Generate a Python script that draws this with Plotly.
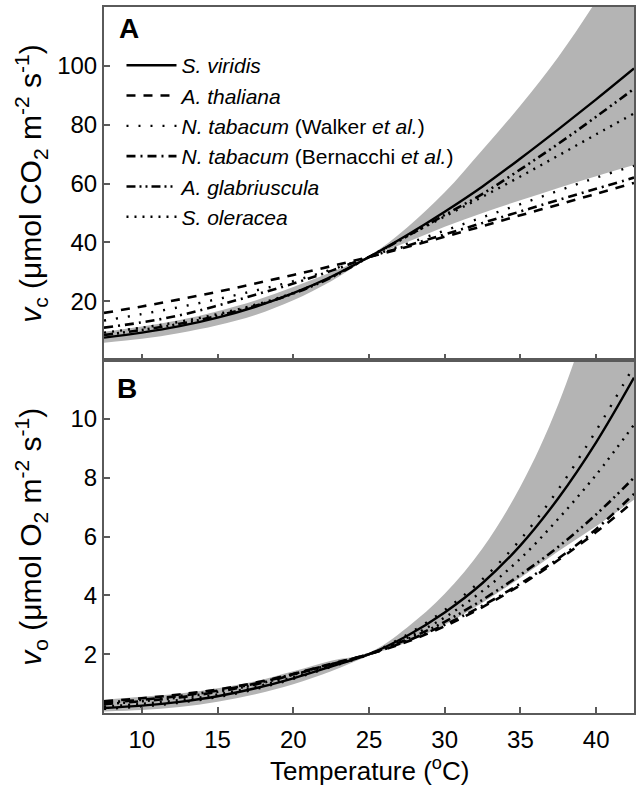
import plotly.graph_objects as go

# ---------------- data ----------------
temperature = [7.5, 10, 12.5, 15, 17.5, 20, 22.5, 25, 27.5, 30, 32.5, 35, 37.5, 40, 42.5]

species = [
    "<i>S. viridis</i>",
    "<i>A. thaliana</i>",
    "<i>N. tabacum</i> (Walker <i>et al.</i>)",
    "<i>N. tabacum</i> (Bernacchi <i>et al.</i>)",
    "<i>A. glabriuscula</i>",
    "<i>S. oleracea</i>",
]

# Panel A: v_c (umol CO2 m-2 s-1)
vc_viridis   = [7.6, 9.3, 11.5, 14.4, 18.1, 22.7, 28.3, 35.0, 42.4, 50.4, 59.0, 68.5, 78.4, 88.6, 99.1]
vc_thaliana  = [16.0, 18.2, 20.6, 23.2, 26.0, 28.9, 31.9, 35.0, 38.4, 41.9, 45.5, 49.2, 52.8, 56.5, 60.2]
vc_walker    = [13.4, 15.6, 18.0, 20.7, 23.6, 26.8, 30.7, 35.0, 39.5, 44.0, 48.5, 53.0, 57.5, 62.0, 66.0]
vc_bernacchi = [11.0, 12.8, 15.2, 18.5, 22.2, 26.0, 30.3, 35.0, 38.8, 42.7, 46.6, 50.5, 54.4, 58.2, 62.0]
vc_glab      = [8.5, 10.2, 12.3, 15.0, 18.4, 22.6, 28.0, 35.0, 42.0, 49.3, 56.5, 64.8, 73.5, 82.7, 92.2]
vc_oleracea  = [9.3, 11.0, 13.0, 15.6, 18.8, 22.8, 28.2, 35.0, 42.0, 48.8, 55.5, 62.4, 69.5, 76.7, 83.8]
vc_band_low  = [5.9, 7.2, 9.2, 11.8, 15.3, 20.3, 26.8, 34.6, 40.0, 45.3, 50.0, 54.3, 58.5, 62.5, 66.3]
vc_band_high = [9.6, 11.4, 13.6, 16.6, 20.2, 24.8, 29.8, 35.4, 45.0, 57.0, 71.5, 86.5, 103.0, 122.0, 142.0]

# Panel B: v_o (umol O2 m-2 s-1)
vo_viridis   = [0.17, 0.25, 0.38, 0.57, 0.84, 1.18, 1.58, 2.0, 2.62, 3.42, 4.42, 5.70, 7.30, 9.20, 11.4]
vo_thaliana  = [0.40, 0.50, 0.63, 0.80, 1.03, 1.33, 1.67, 2.0, 2.42, 2.95, 3.60, 4.35, 5.20, 6.15, 7.2]
vo_walker    = [0.14, 0.22, 0.35, 0.54, 0.81, 1.16, 1.57, 2.0, 2.66, 3.50, 4.55, 5.90, 7.60, 9.60, 11.8]
vo_bernacchi = [0.35, 0.45, 0.58, 0.76, 1.00, 1.32, 1.66, 2.0, 2.45, 3.00, 3.65, 4.40, 5.25, 6.25, 7.45]
vo_glab      = [0.30, 0.40, 0.53, 0.72, 0.97, 1.30, 1.65, 2.0, 2.50, 3.10, 3.85, 4.70, 5.65, 6.75, 8.0]
vo_oleracea  = [0.22, 0.31, 0.44, 0.63, 0.89, 1.22, 1.60, 2.0, 2.55, 3.25, 4.15, 5.25, 6.60, 8.10, 9.8]
vo_band_low  = [0.05, 0.10, 0.20, 0.38, 0.64, 0.98, 1.42, 1.95, 2.40, 3.00, 3.75, 4.60, 5.50, 6.35, 7.25]
vo_band_high = [0.45, 0.55, 0.66, 0.84, 1.08, 1.42, 1.78, 2.05, 2.90, 4.05, 5.60, 7.70, 10.5, 14.3, 19.4]

x_ticks = [10, 15, 20, 25, 30, 35, 40]
vc_ticks = [20, 40, 60, 80, 100]
vo_ticks = [2, 4, 6, 8, 10]

# ---------------- styles ----------------
FONT = "Liberation Sans, Arial, Helvetica, sans-serif"
BAND = "#b4b4b4"
SPINE = "#5a5a5a"
styles = [
    dict(color="black", width=2.4, dash="solid"),
    dict(color="black", width=2.6, dash="9px,8px"),
    dict(color="black", width=2.4, dash="2px,10px"),
    dict(color="black", width=2.6, dash="9px,5px,2px,5px"),
    dict(color="black", width=2.6, dash="9px,4px,2px,4px,2px,4px"),
    dict(color="black", width=2.4, dash="2px,6px"),
]

fig = go.Figure()

panels = [
    ("x2", "y2", vc_band_low, vc_band_high,
     [vc_viridis, vc_thaliana, vc_walker, vc_bernacchi, vc_glab, vc_oleracea], True),
    ("x", "y", vo_band_low, vo_band_high,
     [vo_viridis, vo_thaliana, vo_walker, vo_bernacchi, vo_glab, vo_oleracea], False),
]

for xa, ya, blo, bhi, series, show in panels:
    fig.add_trace(go.Scatter(x=temperature, y=blo, xaxis=xa, yaxis=ya, mode="lines",
                             line=dict(width=0, shape="spline", color=BAND),
                             showlegend=False, hoverinfo="skip"))
    fig.add_trace(go.Scatter(x=temperature, y=bhi, xaxis=xa, yaxis=ya, mode="lines",
                             line=dict(width=0, shape="spline", color=BAND),
                             fill="tonexty", fillcolor=BAND,
                             showlegend=False, hoverinfo="skip"))
    for name, vals, st in zip(species, series, styles):
        fig.add_trace(go.Scatter(x=temperature, y=vals, xaxis=xa, yaxis=ya, mode="lines",
                                 name=name, line=dict(shape="spline", **st),
                                 showlegend=show))

axis_common = dict(showline=True, mirror=True, linecolor=SPINE, linewidth=2,
                   ticks="inside", ticklen=6, tickwidth=1.5, tickcolor=SPINE,
                   showgrid=False, zeroline=False,
                   tickfont=dict(family=FONT, size=24, color="black"))

fig.update_layout(
    width=641, height=804,
    margin=dict(l=104, r=6, t=5, b=91),
    paper_bgcolor="white", plot_bgcolor="white",
    font=dict(family=FONT, size=21, color="black"),
    xaxis=dict(domain=[0, 1], anchor="y", range=[7.5, 42.5], tickvals=x_ticks,
               ticklabelstandoff=4, **axis_common),
    yaxis=dict(domain=[0, 0.5], anchor="x", range=[0, 12], tickvals=vo_ticks, **axis_common),
    xaxis2=dict(domain=[0, 1], anchor="y2", range=[7.5, 42.5], tickvals=x_ticks,
                showticklabels=False, matches="x", **axis_common),
    yaxis2=dict(domain=[0.5, 1], anchor="x2", range=[0, 120], tickvals=vc_ticks, **axis_common),
    legend=dict(x=0.033, y=0.946, xanchor="left", yanchor="top", traceorder="normal",
                bgcolor="rgba(0,0,0,0)", borderwidth=0, itemwidth=50,
                tracegroupgap=0, font=dict(family=FONT, size=21, color="black")),
    showlegend=True,
)

annotations = [
    dict(text="<b>A</b>", x=0.047, y=0.970, font=dict(size=28)),
    dict(text="<b>B</b>", x=0.043, y=0.459, font=dict(size=28)),
    dict(text="<i>v</i><sub>c</sub> (μmol CO<sub>2</sub> m<sup>-2</sup> s<sup>-1</sup>)",
         x=-0.139, y=0.75, textangle=-90, font=dict(size=30)),
    dict(text="<i>v</i><sub>o</sub> (μmol O<sub>2</sub> m<sup>-2</sup> s<sup>-1</sup>)",
         x=-0.139, y=0.25, textangle=-90, font=dict(size=30)),
    dict(text="Temperature (<sup>o</sup>C)", x=0.5, y=-0.0805, font=dict(size=26)),
]
for a in annotations:
    a.update(xref="paper", yref="paper", showarrow=False, xanchor="center", yanchor="middle")
    a["font"].update(family=FONT, color="black")
fig.update_layout(annotations=annotations)

fig.write_html(
    "out.html",
    config={"displayModeBar": False},
    post_script="document.body.style.margin='0';document.body.style.overflow='hidden';",
)
